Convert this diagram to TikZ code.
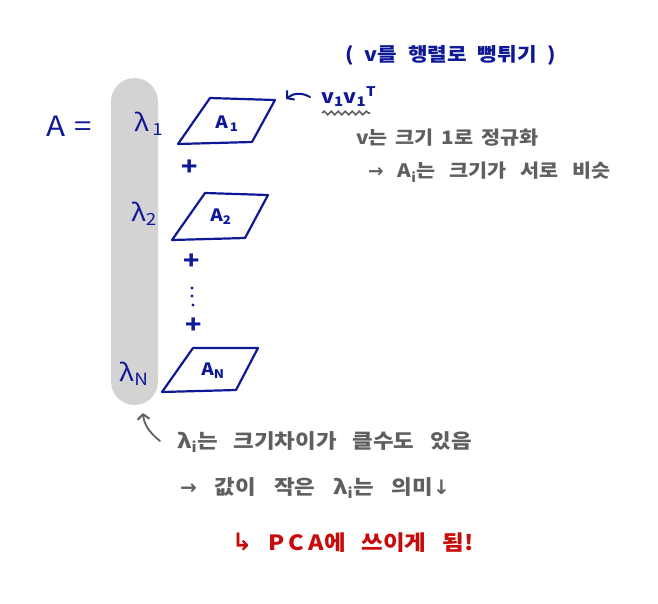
\documentclass[tikz,border=0pt]{standalone}
\usepackage{fontspec}
\setmainfont{Noto Sans CJK KR}
\newfontfamily\hand[FakeStretch=1.12]{Noto Sans CJK KR}
\newfontfamily\sym{DejaVu Sans}
\usetikzlibrary{arrows.meta,decorations.pathmorphing}
\definecolor{ink}{RGB}{15,25,150}
\definecolor{pencil}{RGB}{95,95,95}
\definecolor{redink}{RGB}{200,10,10}
\definecolor{barfill}{RGB}{211,211,211}
\newcommand{\ls}[1]{\addfontfeatures{LetterSpace=#1}}
\newcommand{\wsp}[1]{\spaceskip=#1\relax}
\tikzset{
  blue text/.style={text=ink, font=\hand\fontsize{24}{26}\selectfont, inner sep=0pt},
  small blue/.style={text=ink, font=\hand\bfseries\fontsize{17}{19}\selectfont, inner sep=0pt},
  gray text/.style={text=pencil, font=\hand\bfseries\fontsize{18.5}{21}\selectfont, inner sep=0pt, anchor=west},
  big gray/.style={gray text, font=\hand\bfseries\fontsize{20}{22}\selectfont},
  red text/.style={text=redink, font=\hand\bfseries\fontsize{21}{23}\selectfont, inner sep=0pt, anchor=west},
  matbox/.style={draw=ink, line width=2.2pt, line join=round, line cap=round},
  plus/.style={text=ink, font=\hand\bfseries\fontsize{24}{24}\selectfont, inner sep=0pt},
  ptr/.style={line width=2pt, line cap=round, -{Straight Barb[length=5pt,width=12pt,line width=2pt]}},
}
\begin{document}
\begin{tikzpicture}[x=1pt,y=-1pt]
\useasboundingbox (0,0) rectangle (658,603);
% gray bar
\fill[barfill, rounded corners=23.5pt] (111,78) rectangle (158,405);

% A =
\node[blue text, font=\hand\fontsize{28}{30}\selectfont] (A) at (69,126) {A\hspace{9pt}=};

% lambdas
\node[blue text] (l1) at (149,124) {λ\textsubscript{\,1}};
\node[blue text] (l2) at (144,214) {λ\textsubscript{2}};
\node[blue text] (lN) at (134,374) {λ\textsubscript{N}};

% parallelograms
\draw[matbox] (210,98) -- (275,100) -- (252,142) -- (178,144) -- cycle;
\coordinate (p1) at (286,99);
\node[small blue] (a1) at (227,124) {A\textsubscript{\,1}};
\draw[matbox] (205,193) -- (268,195) -- (245,238) -- (172,240) -- cycle;
\node[small blue] (a2) at (221,217) {A\textsubscript{2}};
\draw[matbox] (193,348) -- (258,348) -- (236,390) -- (162,392) -- cycle;
\node[small blue] (aN) at (213,371) {A\textsubscript{N}};

% plus signs and dots
\node[plus] (pl1) at (190,168) {+};
\node[plus] (pl2) at (192,262) {+};
\node[plus] (pl3) at (194,326) {+};
\foreach \yy/\xx in {288/192,296/192,305/193} \fill[ink] (\xx,\yy) circle (1.6pt);

% top annotations
\node[small blue, font=\hand\bfseries\fontsize{19}{21}\selectfont, anchor=west] (vexp) at (345,55) {\wsp{11pt}( v를 행렬로 뻥튀기 )};
\node[small blue, font=\hand\bfseries\fontsize{19}{21}\selectfont, anchor=west] (vv) at (321,97) {v\textsubscript{1}v\textsubscript{1}\textsuperscript{T}};
\coordinate (arrstart) at (310,97);
\draw[ptr, ink] (arrstart) to[bend right=35] (p1);
\draw[pencil, line width=1.6pt, decorate, decoration={snake, amplitude=1.8pt, segment length=7pt}] (322,113) -- (370,113);
\node[gray text] (norm) at (356,138) {\wsp{8pt}v는 크기 1로 정규화};
\node[gray text] (sim) at (368,172) {\wsp{14pt}{\sym →} A\textsubscript{i}는 크기가 서로 비슷};

% bottom annotations
\coordinate (barbot) at (143,413);
\coordinate (tail) at (160,441);
\draw[ptr, pencil, line width=1.8pt] (tail) .. controls (150,433) and (144,425) .. (barbot);
\node[big gray] (ldiff) at (177,442) {\wsp{16pt}λ\textsubscript{i}는 크기차이가 클수도 있음};
\node[big gray] (lsmall) at (180,488) {\wsp{18pt}{\sym →} 값이 작은 λ\textsubscript{i}는 의미{\sym ↓}};
\node[red text] (pca) at (232,543) {\wsp{16pt}{\sym\fontsize{24}{24}\selectfont ↳} {\ls{20}PCA}에 쓰이게 됨!};
\end{tikzpicture}
\end{document}
